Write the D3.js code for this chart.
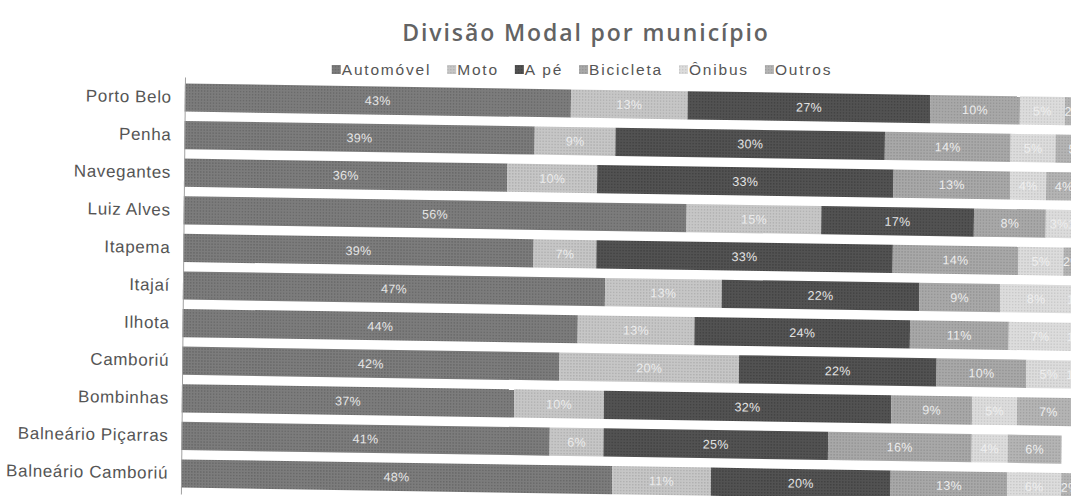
<!DOCTYPE html>
<html>
<head>
<meta charset="utf-8">
<script src="https://cdn.jsdelivr.net/npm/d3@7"></script>
<style>
  html, body { margin: 0; padding: 0; background: #fff; }
  svg { display: block; }
</style>
</head>
<body>
<div id="chart"></div>
<script>
const categories = ['Porto Belo', 'Penha', 'Navegantes', 'Luiz Alves', 'Itapema', 'Itajaí', 'Ilhota', 'Camboriú', 'Bombinhas', 'Balneário Piçarras', 'Balneário Camboriú'];
const modes = ['Automóvel', 'Moto', 'A pé', 'Bicicleta', 'Ônibus', 'Outros'];
const automovel = [43, 39, 36, 56, 39, 47, 44, 42, 37, 41, 48];
const moto      = [13, 9, 10, 15, 7, 13, 13, 20, 10, 6, 11];
const aPe       = [27, 30, 33, 17, 33, 22, 24, 22, 32, 25, 20];
const bicicleta = [10, 14, 13, 8, 14, 9, 11, 10, 9, 16, 13];
const onibus    = [5, 5, 4, 3, 5, 8, 7, 5, 5, 4, 6];
const outros    = [2, 5, 4, 1, 2, 1, 1, 1, 7, 6, 2];

const series = [automovel, moto, aPe, bicicleta, onibus, outros];
const colors = ['#7c7c7c', '#c6c6c6', '#525252', '#a8a8a8', '#dcdcdc', '#b4b4b4'];
const dots   = ['#686868', '#b0b0b0', '#424242', '#949494', '#c8c8c8', '#a0a0a0'];
const labelColors = ['#e6e6e6', '#ececec', '#e4e4e4', '#ececec', '#eeeeee', '#eeeeee'];

const width = 1071, height = 496;
const x0 = 185, plotTop = 76;

const rows = categories.map((c, i) => {
  const r = { name: c };
  modes.forEach((m, j) => { r[m] = series[j][i]; });
  return r;
});

const svg = d3.select('#chart').append('svg')
  .attr('width', width)
  .attr('height', height);

// halftone-like fills, like the scanned print
const defs = svg.append('defs');
modes.forEach((m, j) => {
  const p = defs.append('pattern')
    .attr('id', 'pat' + j)
    .attr('width', 3).attr('height', 3)
    .attr('patternUnits', 'userSpaceOnUse');
  p.append('rect').attr('width', 3).attr('height', 3).attr('fill', colors[j]);
  p.append('rect').attr('width', 1.4).attr('height', 1.4).attr('fill', dots[j]);
});

// title
svg.append('text')
  .attr('x', 586).attr('y', 41)
  .attr('text-anchor', 'middle')
  .attr('font-family', '"Open Sans", sans-serif')
  .attr('font-weight', 600)
  .attr('font-size', 23)
  .attr('letter-spacing', '1.9px')
  .attr('fill', '#636363')
  .text('Divisão Modal por município');

// the scan is slightly rotated / sheared
const g = svg.append('g')
  .attr('transform', `translate(${x0},${plotTop}) matrix(1,0.0155,-0.0098,1,0,0) translate(${-x0},${-plotTop})`);

const x = d3.scaleLinear().domain([0, 100]).range([x0, x0 + 898]);
const y = d3.scaleBand().domain(categories)
  .range([plotTop + 1, plotTop + 418])
  .paddingInner(0.25).paddingOuter(0.17);

const stack = d3.stack().keys(modes)(rows);

const layers = g.selectAll('.layer')
  .data(stack)
  .enter().append('g')
  .attr('class', 'layer');

layers.selectAll('rect')
  .data(d => d)
  .enter().append('rect')
  .attr('x', d => x(d[0]))
  .attr('y', d => y(d.data.name))
  .attr('width', d => x(d[1]) - x(d[0]))
  .attr('height', y.bandwidth())
  .attr('fill', function() { return `url(#pat${d3.select(this.parentNode).datum().index})`; });

layers.selectAll('.lbl')
  .data(d => d.map(v => ({ v, k: d.index })))
  .enter().append('text')
  .attr('class', 'lbl')
  .attr('x', d => (x(d.v[0]) + x(d.v[1])) / 2)
  .attr('y', d => y(d.v.data.name) + y.bandwidth() / 2)
  .attr('dy', '0.36em')
  .attr('text-anchor', 'middle')
  .attr('font-family', '"Liberation Sans", Arial, sans-serif')
  .attr('font-size', 12.5)
  .attr('letter-spacing', '0.3px')
  .attr('fill', d => labelColors[d.k])
  .text(d => (d.v[1] - d.v[0]) + '%');

// category axis
const axis = g.append('g')
  .attr('transform', `translate(${x0},0)`)
  .call(d3.axisLeft(y).tickSize(0).tickPadding(13));
axis.select('.domain').attr('stroke', '#a0a0a0').attr('stroke-width', 1);
axis.selectAll('text')
  .attr('font-family', '"Liberation Sans", Arial, sans-serif')
  .attr('font-size', 17)
  .attr('letter-spacing', '0.65px')
  .attr('fill', '#555');

// legend
const legend = svg.append('g');
let lx = 0;
const items = legend.selectAll('.item')
  .data(modes)
  .enter().append('g')
  .attr('class', 'item');
items.append('rect')
  .attr('y', -10).attr('width', 9).attr('height', 9)
  .attr('fill', (d, i) => `url(#pat${i})`);
items.append('text')
  .attr('x', 10)
  .attr('font-family', '"Liberation Sans", Arial, sans-serif')
  .attr('font-size', 15.5)
  .attr('letter-spacing', '1.8px')
  .attr('fill', '#555')
  .text(d => d);
items.each(function() {
  const w = d3.select(this).select('text').node().getComputedTextLength();
  d3.select(this).attr('transform', `translate(${lx},0)`);
  lx += 10 + w + 16;
});
const legendWidth = lx - 16;
legend.attr('transform', `translate(${582 - legendWidth / 2},75)`);
</script>
</body>
</html>
